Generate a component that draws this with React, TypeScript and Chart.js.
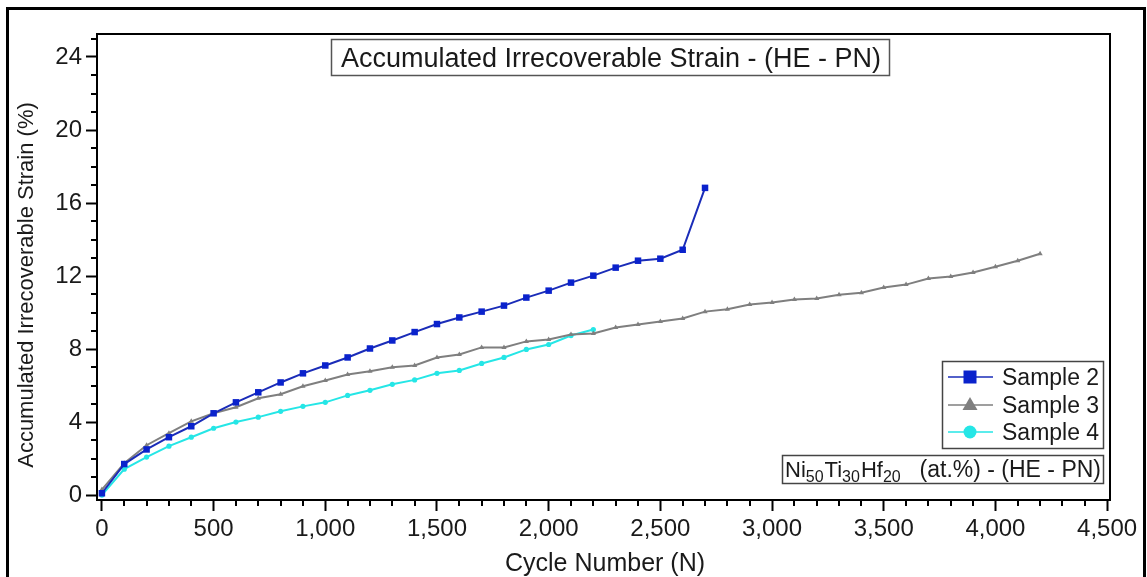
import React, { useEffect, useRef } from 'react';
import { Chart, registerables } from 'chart.js';

Chart.register(...registerables);

// ---------- data ----------
const cyclesS2 = [0, 100, 200, 300, 400, 500, 600, 700, 800, 900, 1000, 1100, 1200, 1300, 1400, 1500, 1600, 1700, 1800, 1900, 2000, 2100, 2200, 2300, 2400, 2500, 2600, 2700];
const strainS2 = [0.1, 1.7, 2.5, 3.17, 3.77, 4.48, 5.08, 5.63, 6.17, 6.67, 7.1, 7.54, 8.03, 8.47, 8.93, 9.37, 9.73, 10.05, 10.38, 10.82, 11.2, 11.64, 12.02, 12.46, 12.84, 12.95, 13.44, 16.83];

const cyclesS3 = [0, 100, 200, 300, 400, 500, 600, 700, 800, 900, 1000, 1100, 1200, 1300, 1400, 1500, 1600, 1700, 1800, 1900, 2000, 2100, 2200, 2300, 2400, 2500, 2600, 2700, 2800, 2900, 3000, 3100, 3200, 3300, 3400, 3500, 3600, 3700, 3800, 3900, 4000, 4100, 4200];
const strainS3 = [0.3, 1.75, 2.73, 3.39, 4.04, 4.48, 4.81, 5.3, 5.52, 5.96, 6.28, 6.61, 6.78, 7.0, 7.1, 7.54, 7.7, 8.09, 8.09, 8.42, 8.52, 8.8, 8.85, 9.18, 9.34, 9.51, 9.67, 10.05, 10.18, 10.44, 10.55, 10.71, 10.77, 10.98, 11.09, 11.37, 11.53, 11.86, 11.97, 12.19, 12.51, 12.84, 13.22];

const cyclesS4 = [0, 100, 200, 300, 400, 500, 600, 700, 800, 900, 1000, 1100, 1200, 1300, 1400, 1500, 1600, 1700, 1800, 1900, 2000, 2100, 2200];
const strainS4 = [0.0, 1.42, 2.08, 2.68, 3.17, 3.66, 4.0, 4.27, 4.59, 4.86, 5.08, 5.46, 5.74, 6.07, 6.31, 6.67, 6.83, 7.21, 7.54, 7.98, 8.25, 8.74, 9.07];

const seriesNames = ['Sample 2', 'Sample 3', 'Sample 4'];
const chartTitle = 'Accumulated Irrecoverable Strain - (HE - PN)';
const xAxisTitle = 'Cycle Number (N)';
const yAxisTitle = 'Accumulated Irrecoverable Strain (%)';
const alloyParts = [['Ni', '50'], ['Ti', '30'], ['Hf', '20']];
const alloySuffix = '(at.%) - (HE - PN)';

const xTickValues = [0, 500, 1000, 1500, 2000, 2500, 3000, 3500, 4000, 4500];
const yTickValues = [0, 4, 8, 12, 16, 20, 24];
const xMinorStep = 100;
const yMinorStep = 1;
const xLast = 4500;
const yLast = 25;

// ---------- styles ----------
const FONT = '"Liberation Sans", Arial, Helvetica, sans-serif';
const C2 = '#0a22cc';
const C2L = '#1a2cb8';
const C3 = '#7f7f7f';
const C4 = '#25e6e6';
const TXT = '#1a1a1a';

const toPoints = (xs: number[], ys: number[]) => xs.map((x, i) => ({ x, y: ys[i] }));

const decor = {
  id: 'decor',
  afterDraw(chart: any) {
    const ctx: CanvasRenderingContext2D = chart.ctx;
    const { left, right, top, bottom } = chart.chartArea;
    const xs = chart.scales.x;
    const ys = chart.scales.y;
    ctx.save();

    // frame (top & right)
    ctx.strokeStyle = '#000';
    ctx.lineWidth = 2;
    ctx.beginPath();
    ctx.moveTo(left - 1, top);
    ctx.lineTo(right, top);
    ctx.lineTo(right, bottom + 1);
    ctx.stroke();

    // minor ticks
    ctx.lineWidth = 2;
    ctx.beginPath();
    for (let v = 0; v <= xLast; v += xMinorStep) {
      if (xTickValues.includes(v)) continue;
      const px = Math.round(xs.getPixelForValue(v));
      ctx.moveTo(px, bottom);
      ctx.lineTo(px, bottom + 6);
    }
    for (let v = 0; v <= yLast; v += yMinorStep) {
      if (yTickValues.includes(v)) continue;
      const py = Math.round(ys.getPixelForValue(v));
      ctx.moveTo(left, py);
      ctx.lineTo(left - 6, py);
    }
    ctx.stroke();

    // outer border
    ctx.lineWidth = 3;
    ctx.strokeStyle = '#000';
    ctx.strokeRect(7.5, 8.5, 1137, 620);

    // axis titles
    ctx.fillStyle = TXT;
    ctx.textAlign = 'center';
    ctx.textBaseline = 'alphabetic';
    ctx.font = `22px ${FONT}`;
    ctx.save();
    ctx.translate(33, 285);
    ctx.rotate(-Math.PI / 2);
    ctx.fillText(yAxisTitle, 0, 0);
    ctx.restore();
    ctx.font = `25px ${FONT}`;
    ctx.fillText(xAxisTitle, 605, 571);

    // title box
    ctx.lineWidth = 1.5;
    ctx.strokeStyle = '#555';
    ctx.strokeRect(331.5, 39.5, 558, 36);
    ctx.font = `27px ${FONT}`;
    ctx.fillStyle = TXT;
    ctx.fillText(chartTitle, 611, 67);

    // legend
    ctx.strokeStyle = '#444';
    ctx.lineWidth = 1.5;
    ctx.strokeRect(942.5, 361.5, 161, 87);
    const rowsY = [377, 405, 432];
    chart.data.datasets.forEach((ds: any, i: number) => {
      const y = rowsY[i];
      ctx.strokeStyle = ds.borderColor;
      ctx.lineWidth = 1.5;
      ctx.beginPath();
      ctx.moveTo(948, y);
      ctx.lineTo(993, y);
      ctx.stroke();
      ctx.fillStyle = ds.pointBackgroundColor;
      const cx = 970;
      if (ds.pointStyle === 'rect') {
        ctx.fillRect(cx - 6.5, y - 6.5, 13, 13);
      } else if (ds.pointStyle === 'triangle') {
        ctx.beginPath();
        ctx.moveTo(cx, y - 8);
        ctx.lineTo(cx + 7.5, y + 5);
        ctx.lineTo(cx - 7.5, y + 5);
        ctx.closePath();
        ctx.fill();
      } else {
        ctx.beginPath();
        ctx.arc(cx, y, 6.5, 0, Math.PI * 2);
        ctx.fill();
      }
      ctx.fillStyle = TXT;
      ctx.textAlign = 'left';
      ctx.font = `23px ${FONT}`;
      ctx.fillText(ds.label, 1002, y + 8);
    });

    // alloy annotation box
    ctx.strokeStyle = '#444';
    ctx.lineWidth = 1.5;
    ctx.strokeRect(782.5, 455.5, 321, 28);
    ctx.fillStyle = TXT;
    ctx.textAlign = 'left';
    let x = 785;
    alloyParts.forEach(([el, sub]) => {
      ctx.font = `22px ${FONT}`;
      ctx.fillText(el, x, 477);
      x += ctx.measureText(el).width;
      ctx.font = `16px ${FONT}`;
      ctx.fillText(sub, x, 482);
      x += ctx.measureText(sub).width + 1;
    });
    ctx.font = `23px ${FONT}`;
    ctx.textAlign = 'right';
    ctx.fillText(alloySuffix, 1101, 477);

    ctx.restore();
  },
};

export default function App() {
  const ref = useRef<HTMLCanvasElement>(null);
  useEffect(() => {
    const canvas = ref.current;
    if (!canvas) return;
    const chart = new Chart(canvas, {
      type: 'line',
      data: {
        datasets: [
          {
            label: seriesNames[0],
            data: toPoints(cyclesS2, strainS2),
            borderColor: C2L,
            backgroundColor: C2,
            pointStyle: 'rect',
            pointRadius: 4.6,
            pointBackgroundColor: C2,
            pointBorderColor: C2,
            pointBorderWidth: 0,
            borderWidth: 2,
          },
          {
            label: seriesNames[1],
            data: toPoints(cyclesS3, strainS3),
            borderColor: C3,
            backgroundColor: C3,
            pointStyle: 'triangle',
            pointRadius: 3,
            pointBackgroundColor: C3,
            pointBorderColor: C3,
            pointBorderWidth: 0,
            borderWidth: 2,
          },
          {
            label: seriesNames[2],
            data: toPoints(cyclesS4, strainS4),
            borderColor: C4,
            backgroundColor: C4,
            pointStyle: 'circle',
            pointRadius: 2.6,
            pointBackgroundColor: C4,
            pointBorderColor: C4,
            pointBorderWidth: 0,
            borderWidth: 2,
          },
        ],
      } as any,
      options: {
        animation: false,
        responsive: false,
        devicePixelRatio: 1,
        layout: { padding: { top: 34, right: 37, left: 0, bottom: 0 } },
        plugins: {
          legend: { display: false },
          tooltip: { enabled: false },
          title: { display: false },
        },
        scales: {
          x: {
            type: 'linear',
            min: -22,
            max: 4513,
            afterBuildTicks: (s: any) => { s.ticks = xTickValues.map((v) => ({ value: v })); },
            afterFit: (s: any) => { s.height = 77; },
            ticks: {
              color: TXT,
              padding: 4,
              maxRotation: 0,
              autoSkip: false,
              font: { family: FONT, size: 24 },
              callback: (v: any) => Number(v).toLocaleString('en-US'),
            },
            grid: { drawOnChartArea: false, tickLength: 11, tickWidth: 2, tickColor: '#000' },
            border: { display: true, color: '#000', width: 2 },
          },
          y: {
            type: 'linear',
            min: -0.27,
            max: 25.26,
            afterBuildTicks: (s: any) => { s.ticks = yTickValues.map((v) => ({ value: v })); },
            afterFit: (s: any) => { s.width = 97; },
            ticks: {
              color: TXT,
              padding: 4,
              autoSkip: false,
              font: { family: FONT, size: 24 },
            },
            grid: { drawOnChartArea: false, tickLength: 11, tickWidth: 2, tickColor: '#000' },
            border: { display: true, color: '#000', width: 2 },
          },
        },
      } as any,
      plugins: [decor],
    });
    return () => chart.destroy();
  }, []);
  return (
    <div style={{ position: 'absolute', left: 0, top: 0, width: 1147, height: 577, background: '#fff', overflow: 'hidden' }}>
      <canvas ref={ref} width={1147} height={577} style={{ display: 'block' }} />
    </div>
  );
}
